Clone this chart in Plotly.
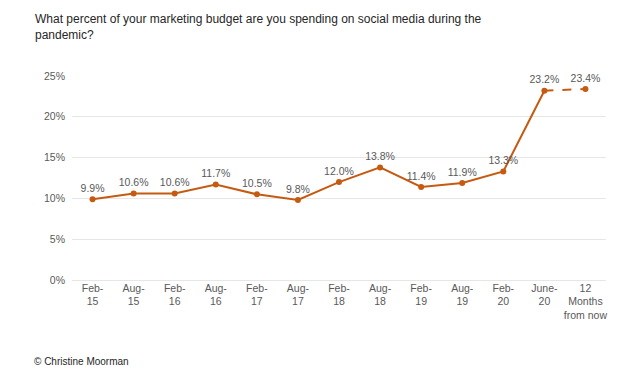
import plotly.graph_objects as go

categories = ["Feb-<br>15", "Aug-<br>15", "Feb-<br>16", "Aug-<br>16", "Feb-<br>17", "Aug-<br>17",
              "Feb-<br>18", "Aug-<br>18", "Feb-<br>19", "Aug-<br>19", "Feb-<br>20", "June-<br>20",
              "12<br>Months<br>from now"]
values = [9.9, 10.6, 10.6, 11.7, 10.5, 9.8, 12.0, 13.8, 11.4, 11.9, 13.3, 23.2, 23.4]
labels = [f"{v:.1f}%" for v in values]
title = "What percent of your marketing budget are you spending on social media during the<br>pandemic?"
source = "© Christine Moorman"

FONT = "Liberation Sans, Arial, sans-serif"
color = "#C55A11"
fig = go.Figure()
# solid part
fig.add_trace(go.Scatter(x=categories[:12], y=values[:12], mode="lines",
                         line=dict(color=color, width=2), hoverinfo="skip", cliponaxis=False))
# dashed projection
fig.add_trace(go.Scatter(x=categories[11:], y=values[11:], mode="lines",
                         line=dict(color=color, width=2, dash="dash"), hoverinfo="skip",
                         cliponaxis=False))
# markers + labels
fig.add_trace(go.Scatter(x=categories, y=values, mode="markers+text", text=labels,
                         textposition="top center", cliponaxis=False,
                         textfont=dict(family=FONT, size=10.5, color="#595959"),
                         marker=dict(color=color, size=6)))

# page body has an 8px default margin, so the figure is 8px smaller and shifted
fig.update_layout(
    width=616, height=364,
    margin=dict(l=64, r=18, t=68, b=92),
    plot_bgcolor="white", paper_bgcolor="white",
    showlegend=False,
    font=dict(family=FONT, size=10.5, color="#595959"),
)
fig.update_xaxes(showgrid=False, showline=False, ticks="", tickfont=dict(size=10.5, color="#595959"),
                 range=[-0.5, 12.5])
fig.update_yaxes(range=[0, 25], dtick=5, ticksuffix="%", gridcolor="#E6E6E6", gridwidth=1,
                 zeroline=True, zerolinecolor="#E6E6E6", zerolinewidth=1,
                 tickfont=dict(size=10.5, color="#595959"), showline=False,
                 ticklabelstandoff=6)
fig.add_annotation(text=title, xref="paper", yref="paper", x=0, y=1, xshift=-39, yshift=66,
                   xanchor="left", yanchor="top", align="left", showarrow=False,
                   font=dict(family=FONT, size=12, color="#262626"))
fig.add_annotation(text=source, xref="paper", yref="paper", x=0, y=0,
                   xshift=-40, yshift=-81, xanchor="left", yanchor="middle", showarrow=False,
                   font=dict(family=FONT, size=10, color="#262626"))
fig.write_html("out.html")
